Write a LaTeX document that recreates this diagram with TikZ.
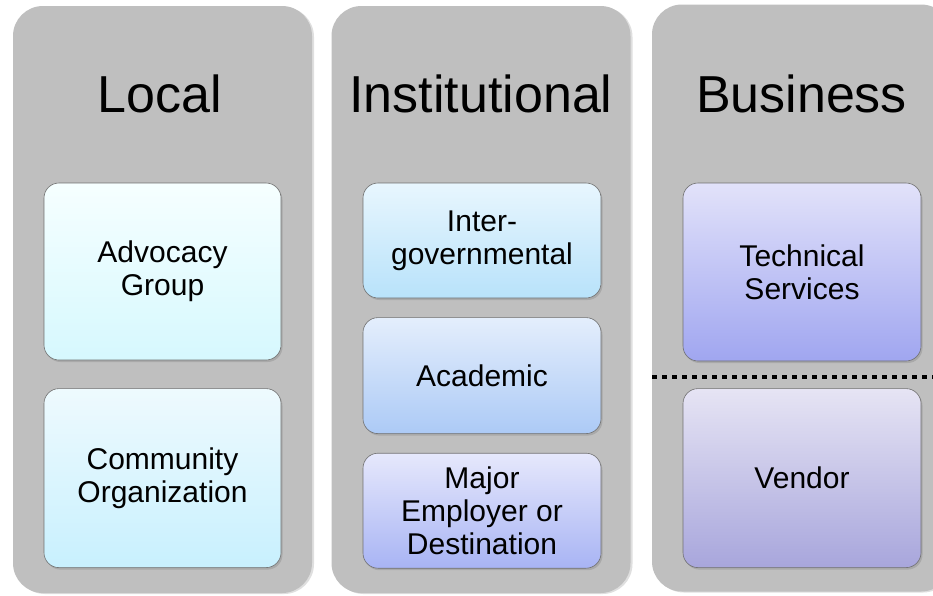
\documentclass[tikz,border=0pt]{standalone}
\usepackage{fontspec}
\setmainfont{Liberation Sans}
\usetikzlibrary{positioning, shadows}

\definecolor{panelgray}{HTML}{BFBFBF}
\definecolor{framegray}{HTML}{707070}
\definecolor{advtop}{HTML}{F6FFFF}
\definecolor{advbot}{HTML}{D6F8FE}
\definecolor{comtop}{HTML}{EEFAFE}
\definecolor{combot}{HTML}{C8F0FE}
\definecolor{intertop}{HTML}{E8F6FE}
\definecolor{interbot}{HTML}{B8E2FA}
\definecolor{acadtop}{HTML}{E4EEFC}
\definecolor{acadbot}{HTML}{ACCAF6}
\definecolor{majtop}{HTML}{E6E8FC}
\definecolor{majbot}{HTML}{A8B4F4}
\definecolor{techtop}{HTML}{E2E2FA}
\definecolor{techbot}{HTML}{A0A6F0}
\definecolor{vendtop}{HTML}{E6E4F4}
\definecolor{vendbot}{HTML}{A8A6DC}

\tikzset{
  panel/.style={rectangle, rounded corners=30pt, fill=panelgray, minimum width=299pt, minimum height=587pt,
    drop shadow={opacity=0.25, shadow xshift=2pt, shadow yshift=-1pt}},
  headtext/.style={anchor=base, font=\fontsize{52}{60}\selectfont},
  item/.style={draw=framegray, line width=0.6pt, rectangle, rounded corners=15pt, minimum width=237pt,
    align=center, font=\fontsize{30}{33}\selectfont,
    drop shadow={opacity=0.35, shadow xshift=1.5pt, shadow yshift=-2pt}},
}

\begin{document}
\begin{tikzpicture}[x=1pt, y=-1pt]
    \clip (0,0) rectangle (933,595);
    \fill[white] (0,0) rectangle (933,595);

    % three columns
    \node[panel] (local) at (162.5,299.5) {};
    \node[panel] (inst) at (481,299.5) {};
    \node[panel] (bus) at (801.5,298) {};

    \node[headtext] (localhead) at (160,112) {Local};
    \node[headtext] (insthead) at (481,112) {Institutional};
    \node[headtext] (bushead) at (801.5,112) {Business};

    % Local
    \node[item, minimum height=177pt, top color=advtop, bottom color=advbot] (advocacy) at (162.5,271.5) {Advocacy\\Group};
    \node[item, minimum height=179pt, top color=comtop, bottom color=combot, below=28pt of advocacy] (community) {Community\\Organization};

    % Institutional
    \node[item, minimum height=115pt, minimum width=238pt, top color=intertop, bottom color=interbot] (intergov) at (482,240.5) {Inter-\\governmental};
    \node[item, minimum height=116pt, minimum width=238pt, top color=acadtop, bottom color=acadbot, below=19pt of intergov] (academic) {Academic};
    \node[item, minimum height=115pt, minimum width=238pt, top color=majtop, bottom color=majbot, below=19pt of academic] (employer) {Major\\Employer or\\Destination};

    % Business
    \node[item, minimum height=178pt, minimum width=238pt, top color=techtop, bottom color=techbot] (technical) at (802,272) {Technical\\Services};
    \node[item, minimum height=179pt, minimum width=238pt, top color=vendtop, bottom color=vendbot, below=27pt of technical] (vendor) {Vendor};

    \coordinate (sepleft) at (652,376.5);
    \coordinate (sepright) at (940,376.5);
    \draw[line width=4pt, dash pattern=on 5pt off 5pt] (sepleft) -- (sepright);
\end{tikzpicture}
\end{document}
